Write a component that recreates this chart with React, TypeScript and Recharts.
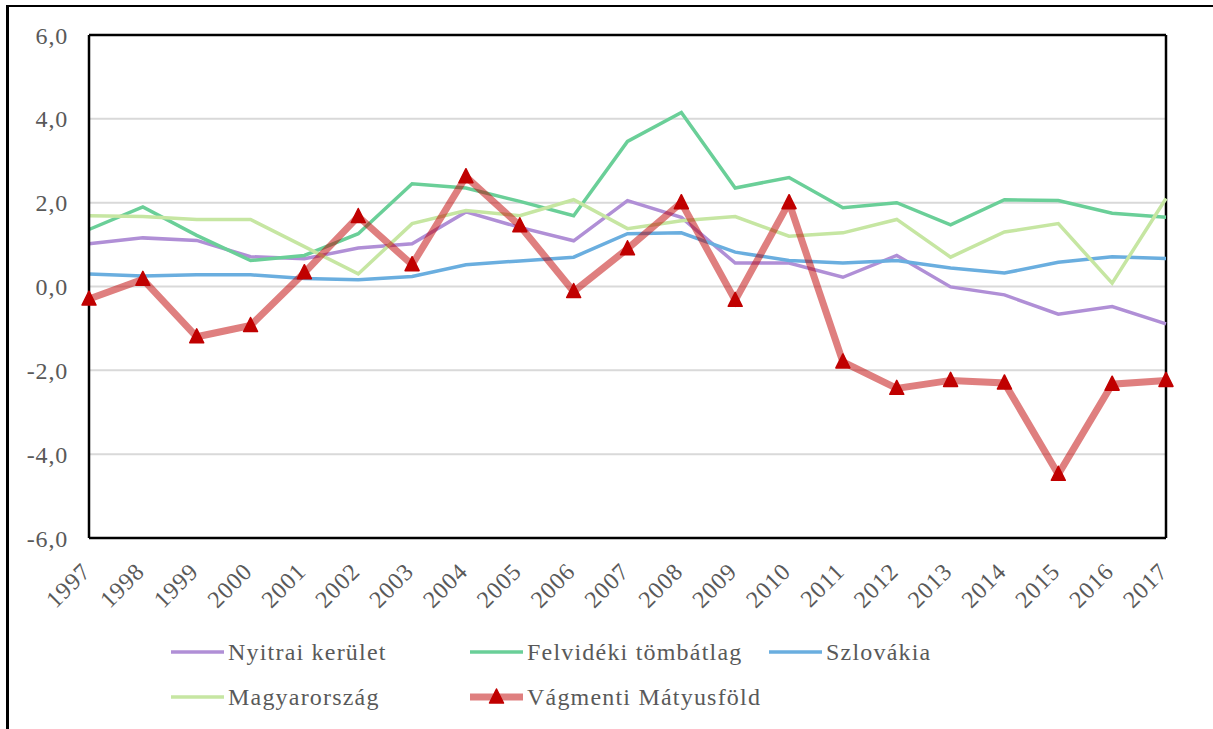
import React from 'react';
import { LineChart, Line, XAxis, YAxis, CartesianGrid, Legend, ReferenceLine } from 'recharts';

const years = ['1997','1998','1999','2000','2001','2002','2003','2004','2005','2006','2007','2008','2009','2010','2011','2012','2013','2014','2015','2016','2017'];
const nyitrai = [1.02,1.16,1.1,0.71,0.66,0.92,1.02,1.78,1.41,1.09,2.05,1.65,0.56,0.56,0.22,0.74,-0.01,-0.2,-0.66,-0.48,-0.89];
const felvideki = [1.36,1.9,1.22,0.62,0.74,1.26,2.45,2.35,2.03,1.69,3.46,4.15,2.35,2.6,1.88,2.0,1.47,2.07,2.05,1.75,1.65];
const szlovakia = [0.3,0.25,0.28,0.28,0.19,0.16,0.24,0.52,0.61,0.7,1.26,1.28,0.82,0.62,0.56,0.62,0.44,0.32,0.58,0.71,0.67];
const magyar = [1.69,1.67,1.6,1.6,0.95,0.3,1.5,1.81,1.69,2.07,1.38,1.57,1.67,1.2,1.28,1.6,0.7,1.3,1.5,0.08,2.1];
const vagmenti = [-0.3,0.17,-1.2,-0.93,0.33,1.67,0.52,2.62,1.45,-0.12,0.9,2.0,-0.33,2.0,-1.8,-2.43,-2.24,-2.3,-4.48,-2.33,-2.24];
const yTicks = [-6,-4,-2,0,2,4,6];

const seriesNames = ['Nyitrai kerület','Felvidéki tömbátlag','Szlovákia','Magyarország','Vágmenti Mátyusföld'];
const seriesKeys = ['nyitrai','felvideki','szlovakia','magyar','vagmenti'];
const seriesColors = ['#B08FD6','#6ACF98','#6AAEDF','#C6E6A2','#C00000'];

const data = years.map((y, i) => ({
  year: y,
  nyitrai: nyitrai[i],
  felvideki: felvideki[i],
  szlovakia: szlovakia[i],
  magyar: magyar[i],
  vagmenti: vagmenti[i],
}));

const FONT = '"Liberation Serif", Tinos, "Times New Roman", serif';
const TXT = '#595959';

const Triangle = (props: any) => {
  const { cx, cy } = props;
  if (cx == null || cy == null) return null;
  return (
    <polygon
      points={`${cx},${cy - 8} ${cx + 7},${cy + 6} ${cx - 7},${cy + 6}`}
      fill="#C00000"
      stroke="#C00000"
      strokeWidth={1.5}
      strokeLinejoin="round"
    />
  );
};

const XTick = (props: any) => {
  const { x, y, payload } = props;
  const ax = x + 3;
  const ay = y + 35;
  return (
    <text x={ax} y={ay} transform={`rotate(-45, ${ax}, ${ay})`} textAnchor="end" fill={TXT} fontFamily={FONT} fontSize={24} letterSpacing={0.8}>
      {payload.value}
    </text>
  );
};

const legendPos = [
  { left: 170, top: 0 },
  { left: 469, top: 0 },
  { left: 768, top: 0 },
  { left: 170, top: 45 },
  { left: 469, top: 45 },
];

const LegendContent = () => (
  <div style={{ position: 'relative', width: 1213, height: 100 }}>
    {seriesNames.map((name, i) => {
      const isRed = i === 4;
      const p = legendPos[i];
      return (
        <div key={name} style={{ position: 'absolute', left: p.left, top: p.top, height: 30, display: 'flex', alignItems: 'center' }}>
          <svg width={56} height={30} style={{ display: 'block' }}>
            <line x1={1} y1={15} x2={54} y2={15} stroke={seriesColors[i]} strokeWidth={isRed ? 7 : 3.5} strokeOpacity={isRed ? 0.5 : 1} />
            {isRed && (
              <polygon points="27.5,7 34.5,21 20.5,21" fill="#C00000" stroke="#C00000" strokeWidth={1.5} strokeLinejoin="round" />
            )}
          </svg>
          <span style={{ fontFamily: FONT, fontSize: 24, color: TXT, lineHeight: '30px', marginLeft: 2, letterSpacing: 1.2, whiteSpace: 'nowrap' }}>
            {name}
          </span>
        </div>
      );
    })}
  </div>
);

export default function App() {
  return (
    <div style={{ position: 'absolute', left: 0, top: 0, width: 1213, height: 729, background: '#fff' }}>
      <div style={{ position: 'absolute', left: 6, top: 5, width: 1204, height: 724, borderLeft: '3px solid #000', borderTop: '2px solid #000' }} />
      <div style={{ position: 'absolute', left: 0, top: 0 }}>
        <LineChart width={1213} height={729} data={data} margin={{ top: 35, right: 47, left: 29, bottom: 121 }}>
          <CartesianGrid vertical={false} stroke="#D9D9D9" strokeWidth={2} />
          <XAxis dataKey="year" tick={<XTick />} tickLine={false} tickSize={0} tickMargin={0} interval={0} height={70} axisLine={{ stroke: '#000', strokeWidth: 2.5 }} />
          <YAxis domain={[-6, 6]} ticks={yTicks} interval={0} width={60} tickLine={false} tickSize={0} tickMargin={21}
            tickFormatter={(v: number) => v.toFixed(1).replace('.', ',')}
            tick={{ fill: TXT, fontFamily: FONT, fontSize: 24, letterSpacing: 0.8 }}
            axisLine={{ stroke: '#000', strokeWidth: 2.5 }} />
          <ReferenceLine y={6} stroke="#000" strokeWidth={2.5} ifOverflow="visible" />
          <ReferenceLine x="2017" stroke="#000" strokeWidth={2.5} ifOverflow="visible" />
          <Legend layout="horizontal" verticalAlign="middle" align="center" content={<LegendContent />} wrapperStyle={{ top: 637, left: 0, width: 1213, height: 100 }} />
          {seriesKeys.slice(0, 4).map((k, i) => (
            <Line key={k} type="linear" dataKey={k} name={seriesNames[i]} stroke={seriesColors[i]} strokeWidth={3.5} dot={false} activeDot={false} isAnimationActive={false} />
          ))}
          <Line type="linear" dataKey="vagmenti" name={seriesNames[4]} stroke="#C00000" strokeOpacity={0.5} strokeWidth={7} dot={<Triangle />} activeDot={false} isAnimationActive={false} />
        </LineChart>
      </div>
    </div>
  );
}
